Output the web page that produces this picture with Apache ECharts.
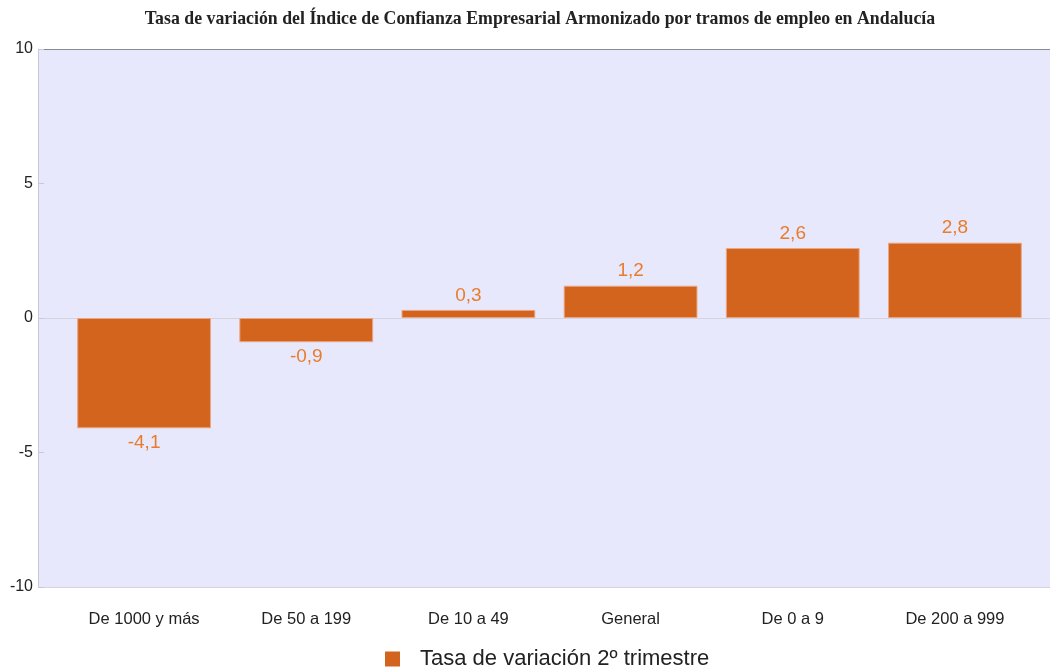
<!DOCTYPE html>
<html><head><meta charset="utf-8">
<script src="https://cdn.jsdelivr.net/npm/echarts@6/dist/echarts.min.js"></script>
<style>html,body{margin:0;padding:0;background:#fff}#c{width:1050px;height:668px}</style>
</head><body><div id="c"></div>
<script>
const categories = ['De 1000 y más','De 50 a 199','De 10 a 49','General','De 0 a 9','De 200 a 999'];
const values = [-4.1, -0.9, 0.3, 1.2, 2.6, 2.8];
const seriesName = 'Tasa de variación 2º trimestre';
const titleText = 'Tasa de variación del Índice de Confianza Empresarial Armonizado por tramos de empleo en Andalucía';

const chart = echarts.init(document.getElementById('c'));
chart.setOption({
  animation: false,
  graphic: [{
    type: 'text', x: 540, y: 19, scaleX: 0.937, originX: 0, originY: 0,
    style: { text: titleText, align: 'center', verticalAlign: 'middle',
      font: 'bold 19px "Liberation Serif"', fill: '#222' }
  }],
  legend: { top: 643, left: 380, itemWidth: 15, itemHeight: 15, itemGap: 10,
    textStyle: { fontFamily: 'Liberation Sans', fontSize: 22, color: '#222', padding: [0, 0, 0, 15] },
    data: [{ name: seriesName, icon: 'rect', itemStyle: { borderWidth: 0 } }] },
  grid: [
    { left: 38, right: 0, top: 49, bottom: 81, show: true, backgroundColor: '#e8e8fc', borderWidth: 0 },
    { left: 63, right: 14, top: 49, bottom: 81 }
  ],
  xAxis: [
    { type: 'category', gridIndex: 0, show: false, data: categories },
    { type: 'category', gridIndex: 1, data: categories,
      axisLine: { show: false }, axisTick: { show: false },
      axisLabel: { fontFamily: 'Liberation Sans', fontSize: 16.5, color: '#222', margin: 24 } }
  ],
  yAxis: [
    { type: 'value', gridIndex: 0, min: -10, max: 10, interval: 5,
      axisLine: { show: true, lineStyle: { color: '#c8c8d8' } },
      axisTick: { show: true, inside: true, length: 6, lineStyle: { color: '#c8c8d8' } },
      axisLabel: { fontFamily: 'Liberation Sans', fontSize: 16, color: '#222', margin: 5 },
      splitLine: { show: true, lineStyle: { color: ['#d4d4e0', 'rgba(0,0,0,0)', '#d4d4e0', 'rgba(0,0,0,0)', '#888899'], width: 1 } } },
    { type: 'value', gridIndex: 1, min: -10, max: 10, interval: 5, show: false, splitLine: { show: false } }
  ],
  series: [{
    name: seriesName, type: 'bar', xAxisIndex: 1, yAxisIndex: 1,
    data: values, barWidth: '82.5%',
    itemStyle: { color: '#d3641e', borderColor: '#eaa682', borderWidth: 1 },
    label: { show: true, position: 'outside', fontFamily: 'Liberation Sans', fontSize: 19, color: '#e87c2c', distance: 5,
      formatter: p => String(p.value).replace('.', ',') }
  }]
});
</script></body></html>
